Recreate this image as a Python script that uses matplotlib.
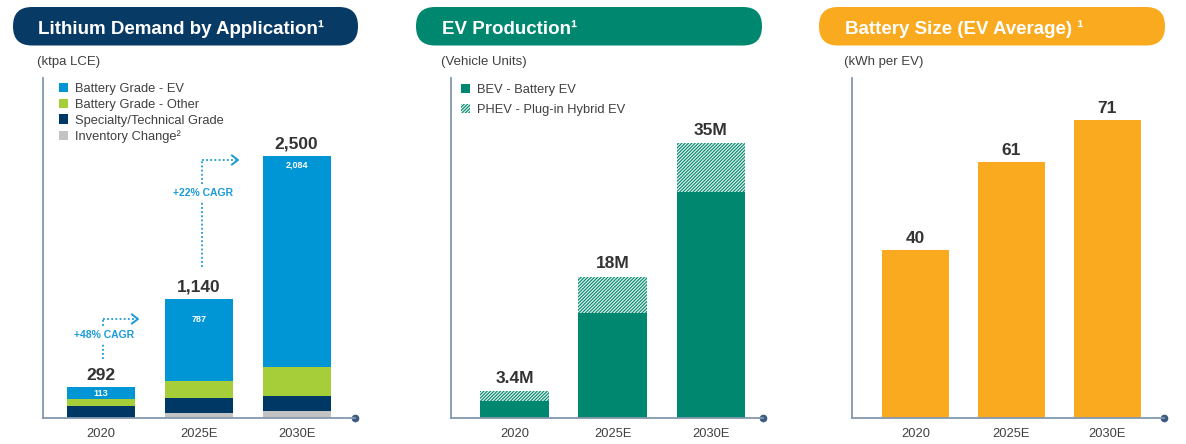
import numpy as np
import matplotlib.pyplot as plt
from matplotlib.patches import FancyBboxPatch

plt.rcParams['font.family'] = ['Liberation Sans', 'DejaVu Sans']
plt.rcParams['hatch.linewidth'] = 0.9

years = ['2020', '2025E', '2030E']

# lithium demand, ktpa LCE (bottom -> top of stack)
inventory = [0, 47, 64]
specialty = [110, 140, 146]
batt_other = [69, 166, 274]
batt_ev = [113, 787, 2016]
demand_labels = ['292', '1,140', '2,500']
batt_ev_labels = ['113', '787', '2,084']
cagr_labels = ['+48% CAGR', '+22% CAGR']

# EV production, million vehicles
bev = [2.2, 13.4, 28.8]
phev = [1.2, 4.6, 6.2]
ev_labels = ['3.4M', '18M', '35M']

# average battery size, kWh per EV
battery_kwh = [40, 61, 71]

# colours
c_navy = '#083A66'
c_teal = '#00876F'
c_orange = '#F9AA1F'
c_blue = '#0095D5'
c_green = '#A6CE39'
c_dark = '#003865'
c_grey = '#C3C3C3'
c_axis = '#8398AE'
c_dot = '#3B5C80'
c_txt = '#404040'
c_num = '#333333'
c_cagr = '#1B9BD7'

W, H = 1186, 444
fig = plt.figure(figsize=(W / 100, H / 100), dpi=100)

# overlay in pixel coordinates for headers / notes
over = fig.add_axes([0, 0, 1, 1])
over.set_xlim(0, W)
over.set_ylim(H, 0)
over.axis('off')
over.set_zorder(5)

x = np.arange(len(years))


def panel(left, right, xl, xr, top):
    ax = fig.add_axes([left / W, (H - 418) / H, (right - left) / W, (418 - 78) / H])
    ax.set_facecolor('none')
    ax.set_xlim(xl, xr)
    ax.set_ylim(0, top)
    for s in ['top', 'right']:
        ax.spines[s].set_visible(False)
    for s in ['left', 'bottom']:
        ax.spines[s].set_color(c_axis)
        ax.spines[s].set_linewidth(1.3)
    ax.set_yticks([])
    ax.set_xticks(x, years)
    ax.tick_params(axis='x', length=0, pad=7, labelsize=9.3, labelcolor=c_txt)
    ax.plot([1], [0], 'o', transform=ax.transAxes, clip_on=False, ms=4.5, color=c_dot)
    return ax


def header(x0, x1, color, title, tx, sub):
    over.add_patch(FancyBboxPatch((x0, 7), x1 - x0, 38.5,
                                  boxstyle='round,pad=0,rounding_size=19',
                                  fc=color, ec='none'))
    over.text(tx, 33.5, title, color='white', fontsize=13.5, fontweight='bold',
              va='baseline', ha='left')
    over.text(tx - 1, 65, sub, color=c_txt, fontsize=9.5, va='baseline', ha='left')


header(13, 358, c_navy, 'Lithium Demand by Application¹', 38, '(ktpa LCE)')
header(416, 762, c_teal, 'EV Production¹', 442, '(Vehicle Units)')
header(819, 1165, c_orange, 'Battery Size (EV Average) ¹', 845, '(kWh per EV)')

# ---- panel 1: lithium demand ----
ax1 = panel(43, 355, -0.592, 2.597, 3244)
w = 0.694
b = np.zeros(3)
h_inv = ax1.bar(x, inventory, w, bottom=b, color=c_grey, lw=0, label='Inventory Change²')
b += inventory
h_spec = ax1.bar(x, specialty, w, bottom=b, color=c_dark, lw=0, label='Specialty/Technical Grade')
b += specialty
h_oth = ax1.bar(x, batt_other, w, bottom=b, color=c_green, lw=0, label='Battery Grade - Other')
b += batt_other
h_ev = ax1.bar(x, batt_ev, w, bottom=b, color=c_blue, lw=0, label='Battery Grade - EV')
b += batt_ev

inner_drop = [6, 21, 9]  # px below the bar top
for i in range(3):
    ax1.annotate(demand_labels[i], (x[i], b[i]), xytext=(0, 3), textcoords='offset points',
                 ha='center', va='bottom', fontsize=12.5, fontweight='bold', color=c_num)
    ax1.annotate(batt_ev_labels[i], (x[i], b[i]), xytext=(0, -inner_drop[i] * 0.72),
                 textcoords='offset points', ha='center', va='center',
                 fontsize=6.5, fontweight='bold', color='white')

ax1.legend(handles=[h_ev, h_oth, h_spec, h_inv], loc='upper left',
           bbox_to_anchor=(59, 83), bbox_transform=over.transData,
           frameon=False, fontsize=9.3, borderpad=0, borderaxespad=0,
           handlelength=0.72, handleheight=0.72, handletextpad=0.5,
           labelspacing=0.28, labelcolor=c_txt)

# CAGR notes
dot_ls = (0, (1, 1.3))
for (vx, y0, y1, hx, ty), lab in zip([(102.7, 359, 319, 136, 335),
                                      (201.7, 267, 160, 236, 193.3)], cagr_labels):
    over.plot([vx, vx], [y0, y1], color=c_cagr, lw=1.3, ls=dot_ls)
    over.plot([vx, hx], [y1, y1], color=c_cagr, lw=1.3, ls=dot_ls)
    over.plot([hx - 4, hx + 2, hx - 4], [y1 - 4.5, y1, y1 + 4.5], color=c_cagr, lw=1.4)
    over.text(vx + 1, ty, lab, ha='center', va='center', fontsize=7.5, fontweight='bold',
              color=c_cagr, bbox=dict(fc='white', ec='none', pad=2.5))

# ---- panel 2: EV production ----
ax2 = panel(451, 763, -0.648, 2.53, 43.3)
w2 = 0.70
h_bev = ax2.bar(x, bev, w2, color=c_teal, lw=0, label='BEV - Battery EV')
h_phev = ax2.bar(x, phev, w2, bottom=bev, color=c_teal, edgecolor='#DDEFEA', lw=0,
                 hatch='//////////', label='PHEV - Plug-in Hybrid EV')
tot = np.array(bev) + np.array(phev)
for i in range(3):
    ax2.annotate(ev_labels[i], (x[i], tot[i]), xytext=(0, 4), textcoords='offset points',
                 ha='center', va='bottom', fontsize=12.5, fontweight='bold', color=c_num)
ax2.legend(handles=[h_bev, h_phev], loc='upper left',
           bbox_to_anchor=(461, 84), bbox_transform=over.transData,
           frameon=False, fontsize=9.3, borderpad=0, borderaxespad=0,
           handlelength=0.72, handleheight=0.72, handletextpad=0.5,
           labelspacing=0.6, labelcolor=c_txt)

# ---- panel 3: battery size ----
ax3 = panel(851.7, 1164, -0.665, 2.59, 81)
ax3.bar(x, battery_kwh, 0.70, color=c_orange, lw=0)
for i in range(3):
    ax3.annotate(str(battery_kwh[i]), (x[i], battery_kwh[i]), xytext=(0, 3),
                 textcoords='offset points', ha='center', va='bottom',
                 fontsize=12.5, fontweight='bold', color=c_num)

fig.savefig('out.png', dpi=100)
